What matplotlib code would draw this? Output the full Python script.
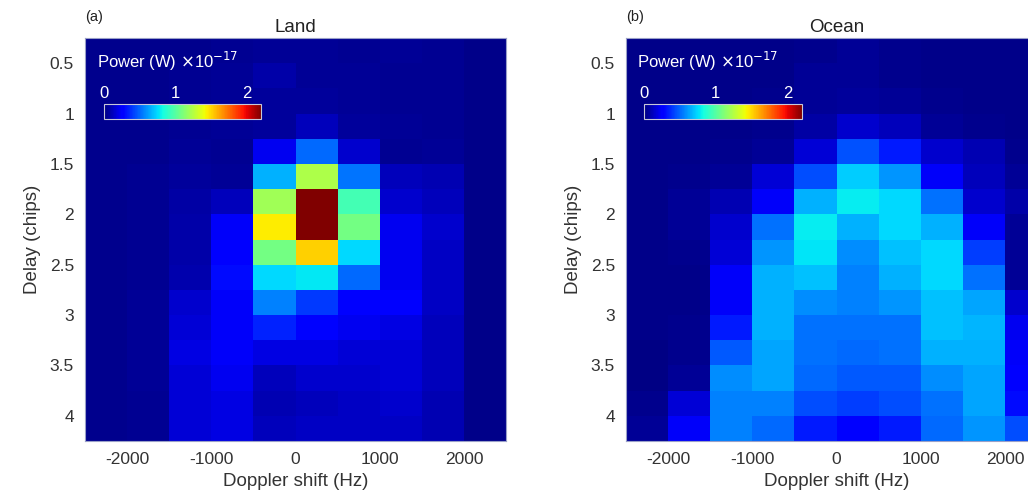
import numpy as np
import matplotlib
matplotlib.use("Agg")
from matplotlib import pyplot as plt

plt.rcParams["font.family"] = ["Liberation Sans", "DejaVu Sans"]
plt.rcParams["axes.unicode_minus"] = False

# bin centres
doppler_hz = [-2250, -1750, -1250, -750, -250, 250, 750, 1250, 1750, 2250]
delay_chips = [0.375, 0.625, 0.875, 1.125, 1.375, 1.625, 1.875, 2.125,
               2.375, 2.625, 2.875, 3.125, 3.375, 3.625, 3.875, 4.125]

# power in units of 1e-17 W, rows = delay (top to bottom), cols = doppler
land_power = np.array([
    [0.03, 0.03, 0.03, 0.04, 0.05, 0.05, 0.04, 0.05, 0.04, 0.02],
    [0.03, 0.03, 0.04, 0.05, 0.08, 0.05, 0.05, 0.04, 0.04, 0.02],
    [0.03, 0.03, 0.04, 0.05, 0.06, 0.06, 0.05, 0.04, 0.04, 0.02],
    [0.03, 0.03, 0.04, 0.05, 0.06, 0.12, 0.06, 0.05, 0.04, 0.02],
    [0.03, 0.03, 0.05, 0.04, 0.22, 0.50, 0.15, 0.04, 0.05, 0.02],
    [0.03, 0.04, 0.06, 0.05, 0.66, 1.23, 0.53, 0.12, 0.10, 0.02],
    [0.03, 0.04, 0.07, 0.12, 1.20, 2.20, 0.95, 0.15, 0.12, 0.02],
    [0.03, 0.04, 0.08, 0.24, 1.45, 2.20, 1.08, 0.22, 0.15, 0.02],
    [0.03, 0.04, 0.08, 0.26, 1.08, 1.52, 0.74, 0.22, 0.13, 0.02],
    [0.03, 0.04, 0.09, 0.30, 0.74, 0.78, 0.50, 0.22, 0.13, 0.02],
    [0.03, 0.05, 0.15, 0.24, 0.55, 0.40, 0.26, 0.26, 0.13, 0.02],
    [0.03, 0.05, 0.17, 0.24, 0.35, 0.28, 0.22, 0.19, 0.12, 0.02],
    [0.03, 0.05, 0.19, 0.24, 0.19, 0.19, 0.17, 0.17, 0.12, 0.02],
    [0.03, 0.05, 0.17, 0.22, 0.12, 0.15, 0.15, 0.17, 0.12, 0.02],
    [0.03, 0.04, 0.17, 0.19, 0.10, 0.12, 0.13, 0.15, 0.10, 0.02],
    [0.03, 0.04, 0.17, 0.19, 0.12, 0.13, 0.13, 0.13, 0.10, 0.02],
])

ocean_power = np.array([
    [0.02, 0.02, 0.02, 0.02, 0.03, 0.05, 0.03, 0.02, 0.02, 0.02],
    [0.02, 0.02, 0.02, 0.02, 0.05, 0.05, 0.03, 0.02, 0.02, 0.02],
    [0.02, 0.02, 0.02, 0.03, 0.05, 0.06, 0.05, 0.03, 0.02, 0.02],
    [0.02, 0.02, 0.02, 0.03, 0.07, 0.15, 0.12, 0.05, 0.03, 0.02],
    [0.02, 0.02, 0.03, 0.05, 0.17, 0.45, 0.33, 0.15, 0.10, 0.03],
    [0.02, 0.03, 0.05, 0.17, 0.44, 0.72, 0.60, 0.24, 0.12, 0.05],
    [0.02, 0.05, 0.10, 0.24, 0.66, 0.79, 0.74, 0.52, 0.15, 0.08],
    [0.02, 0.05, 0.15, 0.52, 0.79, 0.66, 0.74, 0.66, 0.24, 0.05],
    [0.02, 0.03, 0.17, 0.60, 0.77, 0.58, 0.69, 0.74, 0.41, 0.05],
    [0.02, 0.02, 0.24, 0.66, 0.69, 0.55, 0.66, 0.74, 0.52, 0.05],
    [0.02, 0.02, 0.24, 0.66, 0.58, 0.55, 0.60, 0.69, 0.63, 0.15],
    [0.02, 0.03, 0.33, 0.66, 0.52, 0.52, 0.52, 0.69, 0.67, 0.22],
    [0.01, 0.03, 0.47, 0.63, 0.52, 0.50, 0.52, 0.66, 0.66, 0.24],
    [0.01, 0.05, 0.58, 0.63, 0.50, 0.47, 0.47, 0.58, 0.63, 0.26],
    [0.03, 0.17, 0.55, 0.55, 0.44, 0.41, 0.44, 0.52, 0.63, 0.30],
    [0.05, 0.24, 0.55, 0.50, 0.33, 0.27, 0.33, 0.50, 0.60, 0.44],
])

vmax = 2.2
text_col = "#333333"

fig = plt.figure(figsize=(10.28, 4.99), dpi=100)


def draw_panel(rect, power, title, tag, cbar_rect, label_xy):
    ax = fig.add_axes(rect)
    mesh = ax.pcolormesh(doppler_hz, delay_chips, power, cmap="jet",
                         vmin=0, vmax=vmax, shading="nearest")
    ax.set_xlim(-2500, 2500)
    ax.set_ylim(4.25, 0.25)
    ax.set_xticks([-2000, -1000, 0, 1000, 2000])
    ax.set_yticks([0.5, 1, 1.5, 2, 2.5, 3, 3.5, 4])
    ax.set_yticklabels(["0.5", "1", "1.5", "2", "2.5", "3", "3.5", "4"])
    ax.tick_params(length=0, labelsize=12.5, colors=text_col, pad=8)
    for s in ax.spines.values():
        s.set_color("#9aa0c8")
        s.set_linewidth(0.8)
    ax.set_xlabel("Doppler shift (Hz)", fontsize=13.5, color=text_col, labelpad=4)
    ax.set_ylabel("Delay (chips)", fontsize=13.5, color=text_col, labelpad=6)
    ax.set_title(title, fontsize=13.5, color="#222222", pad=4)
    ax.text(0.0, 1.035, tag, transform=ax.transAxes, fontsize=10.5,
            color="#222222", ha="left", va="bottom")

    cax = fig.add_axes(cbar_rect)
    cb = fig.colorbar(mesh, cax=cax, orientation="horizontal")
    cb.set_ticks([0, 1, 2])
    cax.xaxis.set_ticks_position("top")
    cax.tick_params(length=0, labelsize=12, colors="white", pad=2)
    cb.outline.set_edgecolor("#c8c8d8")
    cb.outline.set_linewidth(0.8)
    fig.text(label_xy[0], label_xy[1], r"Power (W) $\times$10$^{-17}$",
             fontsize=12, color="white", ha="left", va="center")
    return ax


draw_panel([85 / 1028, 58 / 499, 421 / 1028, 403 / 499], land_power,
           "Land", "(a)", [104 / 1028, 380 / 499, 157 / 1028, 15 / 499],
           (97 / 1028, 438 / 499))
draw_panel([626 / 1028, 58 / 499, 421 / 1028, 403 / 499], ocean_power,
           "Ocean", "(b)", [644 / 1028, 380 / 499, 158 / 1028, 15 / 499],
           (637 / 1028, 438 / 499))

plt.savefig("out.png", dpi=100)
